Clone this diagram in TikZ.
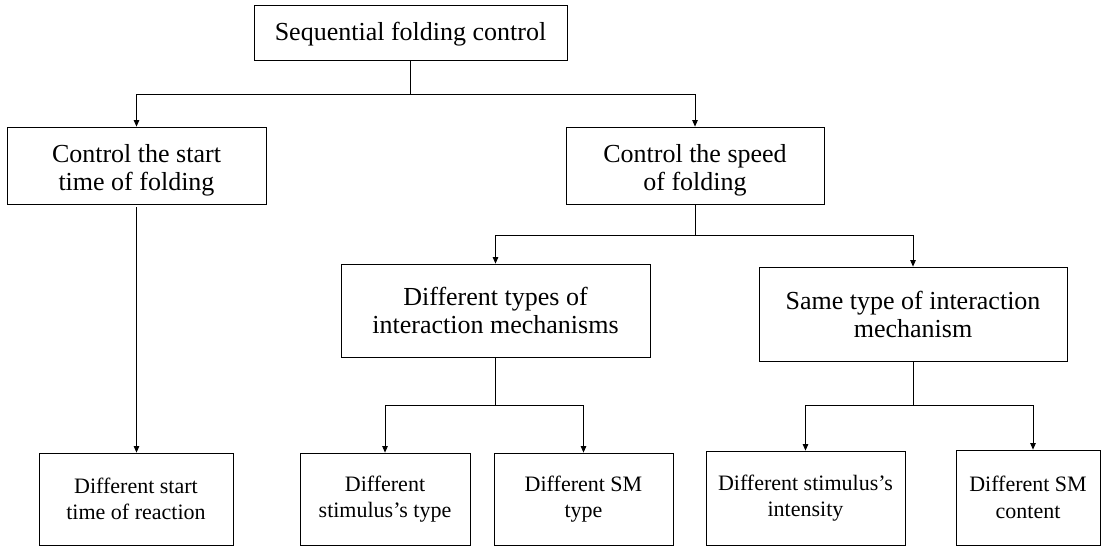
\documentclass[tikz,border=0pt]{standalone}
\usepackage{fontspec}
\setmainfont{Liberation Serif}
\usetikzlibrary{arrows.meta}
\newcommand{\lowerby}[1]{\rule{0pt}{#1}}
\tikzset{
  box/.style={draw, line width=0.8pt, inner sep=0pt, align=center, font=\fontsize{26}{28}\selectfont},
  leaf/.style={box, font=\fontsize{22}{26.5}\selectfont},
  link/.style={line width=0.8pt},
  arr/.style={link, -{Triangle[length=6.5pt,width=5.5pt]}}
}
\begin{document}
\begin{tikzpicture}[x=1pt,y=-1pt]
\useasboundingbox (0,0) rectangle (1102,546);
% level 0
\node[box, minimum width=313pt, minimum height=55pt] (top) at (410.5,32.5) {\lowerby{21pt}Sequential folding control};
% level 1
\node[box, minimum width=259pt, minimum height=77pt] (start) at (136.5,165.5) {\lowerby{27pt}Control the start\\time of folding};
\node[box, minimum width=258pt, minimum height=77pt] (speed) at (695,165.5) {\lowerby{27pt}Control the speed\\of folding};
% level 2
\node[box, minimum width=309pt, minimum height=93pt] (diff) at (495.5,310.5) {Different types of\\interaction mechanisms};
\node[box, minimum width=308pt, minimum height=94pt] (same) at (913,314) {Same type of interaction\\mechanism};
% level 3
\node[leaf, minimum width=194pt, minimum height=92pt] (b1) at (136,499) {Different start\\time of reaction};
\node[leaf, minimum width=170pt, minimum height=92pt] (b2) at (385,499) {Different\\stimulus’s type};
\node[leaf, minimum width=179pt, minimum height=92pt] (b3) at (583.5,499) {Different SM\\type};
\node[leaf, minimum width=199pt, minimum height=94pt] (b4) at (805.5,498) {Different stimulus’s\\intensity};
\node[leaf, minimum width=144pt, minimum height=95pt] (b5) at (1028,497.5) {Different SM\\content};
% connectors
\coordinate (j0) at (410.5,94);
\draw[link] (top.south) -- (j0);
\draw[arr] (j0) -| (start.north);
\draw[arr] (j0) -| (speed.north);
\draw[arr] ([yshift=-3pt]start.south) -- (start.south |- b1.north);
\coordinate (j1) at (695,235);
\draw[link] (speed.south) -- (j1);
\draw[arr] (j1) -| (diff.north);
\draw[arr] (j1) -| (same.north);
\coordinate (j2) at (495.5,405);
\draw[link] (diff.south) -- (j2);
\draw[arr] (j2) -| (b2.north);
\draw[arr] (j2) -| (b3.north);
\coordinate (j3) at (913,405.5);
\draw[link] (same.south) -- (j3);
\draw[arr] (j3) -| (b4.north);
\draw[arr] (j3) -| ([xshift=5pt]b5.north);
\end{tikzpicture}
\end{document}
